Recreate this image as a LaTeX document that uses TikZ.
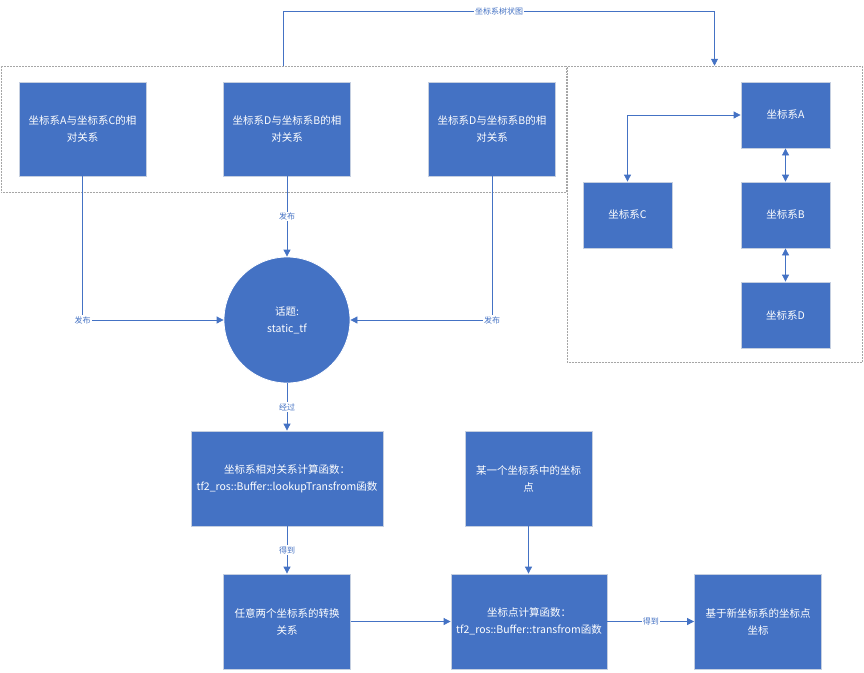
\documentclass[tikz,border=0pt]{standalone}
\usepackage{fontspec}
\setmainfont{Noto Sans CJK SC}
\usetikzlibrary{arrows.meta,positioning}
\definecolor{mblue}{HTML}{4472C4}
\definecolor{bedge}{HTML}{C5CFE0}
\definecolor{gedge}{HTML}{A6A6A6}
\tikzset{
  box/.style={draw=bedge,line width=0.8pt,fill=mblue,text=white,align=center,font=\fontsize{10.5}{17}\selectfont,inner sep=2pt},
  grp/.style={draw=gedge,densely dotted,line width=0.5pt,inner sep=0pt},
  conn/.style={draw=mblue,line width=0.8pt,-{Triangle[length=7pt,width=7pt]}},
  dconn/.style={draw=mblue,line width=0.8pt,{Triangle[length=7pt,width=7pt]}-{Triangle[length=7pt,width=7pt]}},
  lbl/.style={fill=white,text=mblue,font=\fontsize{8}{9}\selectfont,inner sep=1pt}
}
\begin{document}
\begin{tikzpicture}[x=1pt,y=-1pt]
\useasboundingbox (0,0) rectangle (864,672);
% groups
\node[grp,minimum width=565pt,minimum height=126pt] (g1) at (283.5,129) {};
\node[grp,minimum width=295pt,minimum height=296pt] (g2) at (714.5,214) {};
% top boxes
\node[box,minimum width=127pt,minimum height=94pt] (b1) at (82.5,129) {坐标系A与坐标系C的相\\对关系};
\node[box,minimum width=127pt,minimum height=94pt] (b2) at (287,129) {坐标系D与坐标系B的相\\对关系};
\node[box,minimum width=127pt,minimum height=94pt] (b3) at (492,129) {坐标系D与坐标系B的相\\对关系};
% tree boxes
\node[box,minimum width=89pt,minimum height=66pt] (fa) at (785.5,115) {坐标系A};
\node[box,minimum width=89pt,minimum height=66pt] (fc) at (627.5,215) {坐标系C};
\node[box,minimum width=89pt,minimum height=66pt] (fb) at (785.5,215) {坐标系B};
\node[box,minimum width=89pt,minimum height=66pt] (fd) at (785.5,315) {坐标系D};
% circle
\node[box,circle,draw=white,minimum size=126pt] (tp) at (287,320) {话题:\\static\_tf};
% lower boxes
\node[box,minimum width=192pt,minimum height=95pt] (lk) at (287,478.5) {坐标系相对关系计算函数：\\tf2\_ros::Buffer::lookupTransfrom函数};
\node[box,minimum width=127pt,minimum height=95pt] (pt) at (528.5,478.5) {某一个坐标系中的坐标\\点};
\node[box,minimum width=127pt,minimum height=95pt] (rel) at (287,621.5) {任意两个坐标系的转换\\关系};
\node[box,minimum width=156pt,minimum height=95pt] (tf) at (529,621.5) {坐标点计算函数：\\tf2\_ros::Buffer::transfrom函数};
\node[box,minimum width=127pt,minimum height=95pt] (res) at (758,621.5) {基于新坐标系的坐标点\\坐标};
% connectors
\coordinate (t1) at ([yshift=54pt]g1.north);
\draw[conn] (g1.north) -- (t1) -| node[lbl,pos=0.25]{坐标系树状图} (g2.north);
\draw[dconn] (fc.north) |- (fa.west);
\draw[dconn] (fa.south) -- (fb.north);
\draw[dconn] (fb.south) -- (fd.north);
\draw[conn] (b2.south) -- node[lbl]{发布} (tp.north);
\draw[conn] (b1.south) |- node[lbl,pos=0.5]{发布} (tp.west);
\draw[conn] (b3.south) |- node[lbl,pos=0.5]{发布} (tp.east);
\draw[conn] (tp.south) -- node[lbl]{经过} (lk.north);
\draw[conn] (lk.south) -- node[lbl]{得到} (rel.north);
\draw[conn] (pt.south) -- (pt.south |- tf.north);
\draw[conn] (rel.east) -- (tf.west);
\draw[conn] (tf.east) -- node[lbl]{得到} (res.west);
\end{tikzpicture}
\end{document}
